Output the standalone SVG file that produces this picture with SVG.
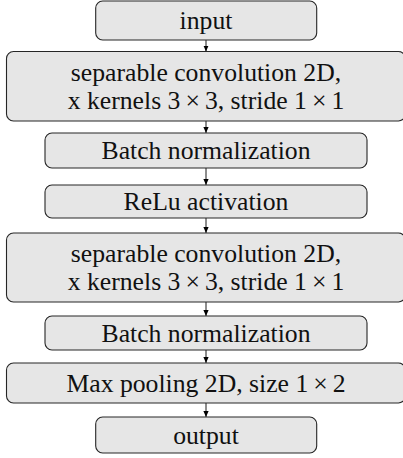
<svg xmlns="http://www.w3.org/2000/svg" width="403" height="458" viewBox="0 0 403 458">
<defs>
<marker id="ah" viewBox="0 0 6 6" refX="6" refY="3" markerWidth="6" markerHeight="6" markerUnits="userSpaceOnUse" orient="auto">
<path d="M0,0.4 L6,3 L0,5.6 Z" fill="#000"/>
</marker>
<style>
.box{fill:#e6e6e6;stroke:#262626;stroke-width:1.1}
.t{font-family:"Liberation Serif","Times New Roman",serif;font-size:25.7px;fill:#111;text-anchor:middle}
.c{stroke:#000;stroke-width:0.9;fill:none;marker-end:url(#ah)}
</style>
</defs>
<rect width="403" height="458" fill="#fff"/>
<g id="connectors">
<line class="c" x1="206" y1="40" x2="206" y2="51.5"/>
<line class="c" x1="206" y1="121" x2="206" y2="133"/>
<line class="c" x1="206" y1="168" x2="206" y2="185"/>
<line class="c" x1="206" y1="218" x2="206" y2="233"/>
<line class="c" x1="206" y1="302" x2="206" y2="316"/>
<line class="c" x1="206" y1="350" x2="206" y2="363"/>
<line class="c" x1="206" y1="403" x2="206" y2="417"/>
</g>
<g id="input">
<rect class="box" x="95.7" y="1" width="221" height="39" rx="7"/>
<text class="t" x="206" y="29">input</text>
</g>
<g id="sepconv1">
<rect class="box" x="6.5" y="51.5" width="399" height="69.5" rx="7"/>
<text class="t" x="206" y="80.5">separable convolution 2D,</text>
<text class="t" x="206" y="108.5">x kernels 3<tspan dx="5">×</tspan><tspan dx="5">3, stride 1</tspan><tspan dx="5">×</tspan><tspan dx="5">1</tspan></text>
</g>
<g id="bn1">
<rect class="box" x="45" y="133" width="322" height="35" rx="7"/>
<text class="t" x="206" y="159">Batch normalization</text>
</g>
<g id="relu">
<rect class="box" x="45" y="185" width="322" height="33" rx="7"/>
<text class="t" x="206" y="210">ReLu activation</text>
</g>
<g id="sepconv2">
<rect class="box" x="6.5" y="233" width="399" height="69" rx="7"/>
<text class="t" x="206" y="261.5">separable convolution 2D,</text>
<text class="t" x="206" y="290">x kernels 3<tspan dx="5">×</tspan><tspan dx="5">3, stride 1</tspan><tspan dx="5">×</tspan><tspan dx="5">1</tspan></text>
</g>
<g id="bn2">
<rect class="box" x="45" y="316" width="322" height="34" rx="7"/>
<text class="t" x="206" y="341.5">Batch normalization</text>
</g>
<g id="maxpool">
<rect class="box" x="6.5" y="363" width="399" height="40" rx="7"/>
<text class="t" x="206" y="391.5">Max pooling 2D, size 1<tspan dx="5">×</tspan><tspan dx="5">2</tspan></text>
</g>
<g id="output">
<rect class="box" x="95.7" y="417" width="221" height="36" rx="7"/>
<text class="t" x="206" y="443.5">output</text>
</g>
</svg>
